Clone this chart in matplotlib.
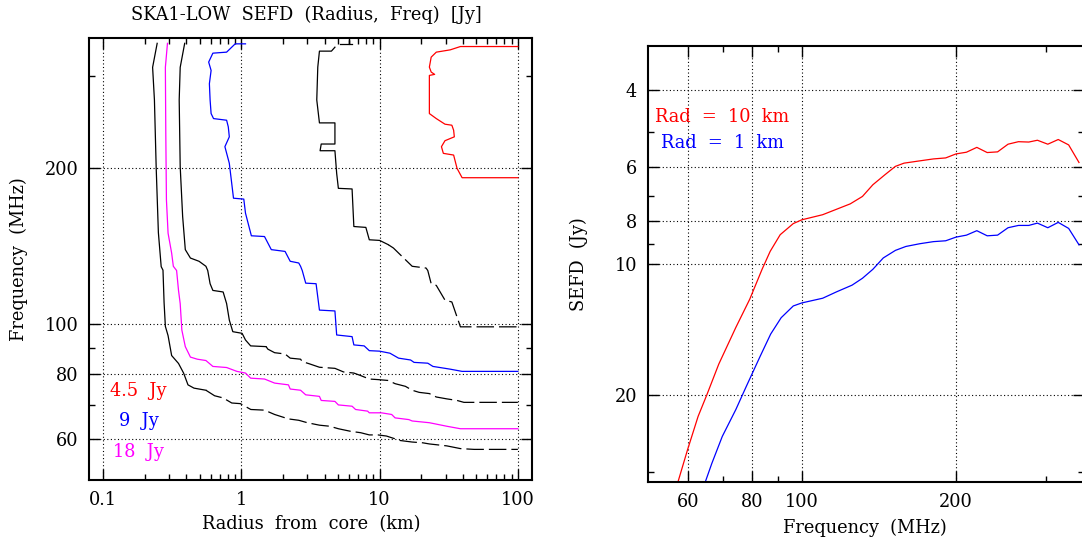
import numpy as np
import matplotlib
matplotlib.use("Agg")
import matplotlib.pyplot as plt
from matplotlib.ticker import FixedLocator, NullFormatter, FixedFormatter

# ---------------- data: left panel contours (radius km, freq MHz) ----------------
c18b_r = [0.246, 0.228, 0.235, 0.242, 0.251, 0.263, 0.271, 0.276, 0.282, 0.295, 0.313, 0.351,
          0.382, 0.411, 0.454, 0.554, 0.640, 0.738, 0.852, 0.983, 1.17, 1.47, 1.74, 2.19, 2.60,
          3.00, 3.67, 4.36, 5.03, 6.14, 7.30, 8.42, 9.72, 11.2, 14.1, 17.2, 20.5, 22.9, 30.6,
          38.4, 48.3, 100]
c18b_f = [347, 312, 270, 200, 150, 129, 127, 110, 99, 95, 87, 84, 80.5, 76.4, 75.3, 74.6, 72.8,
          72.1, 70.5, 70.3, 68.5, 68.3, 67.0, 65.7, 65.3, 64.6, 63.9, 63.6, 62.9, 62.2, 61.8,
          61.2, 61.2, 60.9, 59.7, 59.3, 59.1, 58.8, 58.3, 57.6, 57.4, 57.4]

c18_r = [0.292, 0.282, 0.284, 0.287, 0.295, 0.313, 0.322, 0.340, 0.351, 0.361, 0.371, 0.393,
         0.428, 0.480, 0.554, 0.622, 0.782, 0.928, 1.071, 1.167, 1.47, 1.74, 2.19, 2.255, 2.68,
         2.92, 3.67, 3.78, 4.75, 5.03, 6.32, 6.70, 8.19, 8.42, 10.29, 12.22, 12.94, 16.27, 17.2,
         22.9, 30.6, 38.4, 100]
c18_f = [347, 312, 232.7, 173.4, 149.6, 137, 129.2, 126.8, 116.1, 109.5, 97.4, 90.5, 86.4, 85.6,
         85.1, 82.9, 82.5, 81.1, 80.5, 78.7, 78.4, 77.0, 76.4, 75.0, 74.6, 73.1, 72.6, 71.3, 71.0,
         69.9, 69.5, 68.5, 68.0, 67.5, 67.5, 67.0, 66.0, 65.5, 65.1, 64.6, 63.6, 62.9, 62.9]

c13_r = [0.389, 0.361, 0.355, 0.361, 0.376, 0.393, 0.428, 0.494, 0.554, 0.571, 0.594, 0.622,
         0.738, 0.782, 0.818, 0.867, 1.012, 1.071, 1.167, 1.51, 1.554, 1.74, 2.07, 2.255, 2.68,
         2.756, 3.09, 3.67, 4.75, 5.48, 6.51, 7.30, 8.42, 9.72, 11.54, 12.94, 15.37, 17.2, 19.32,
         22.9, 25.7, 30.6, 36.3, 40.7, 100]
c13_f = [347, 312, 270, 200.9, 161.1, 139.1, 134.0, 132.1, 129.2, 126.8, 119.6, 116.1, 115.3,
         109.5, 101.8, 96.7, 96.0, 93.2, 90.8, 90.5, 89.5, 88.1, 87.6, 86.0, 85.6, 84.7, 83.9,
         82.6, 82.2, 80.9, 80.5, 79.6, 78.4, 78.2, 77.9, 76.8, 75.9, 74.6, 73.9, 73.5, 72.4, 71.8,
         71.3, 70.7, 70.7]

c9_r = [1.071, 0.902, 0.782, 0.622, 0.580, 0.604, 0.587, 0.594, 0.604, 0.629, 0.782, 0.804,
        0.818, 0.760, 0.818, 0.877, 1.041, 1.071, 1.181, 1.47, 1.646, 2.07, 2.255, 2.60, 2.68,
        2.756, 2.92, 3.47, 3.67, 4.75, 4.89, 6.32, 6.51, 7.73, 8.42, 10.0, 11.88, 13.71, 16.75,
        17.74, 22.3, 24.3, 28.9, 32.4, 39.5, 100]
c9_f = [346.2, 346.2, 333.7, 332.2, 319.3, 307.7, 290.2, 270, 254.2, 248.6, 246.8, 239.7, 229.3,
        219.5, 203.9, 174.7, 174.0, 163.5, 147.9, 147.4, 139.1, 138.0, 132.1, 131.1, 129.2, 126.8,
        119.9, 119.6, 106.4, 106.0, 95.3, 94.6, 91.2, 90.8, 88.9, 88.7, 87.9, 86.0, 85.3, 84.4,
        84.1, 82.9, 82.3, 81.9, 81.1, 81.1]

c6_r = [4.75, 4.48, 3.67, 3.57, 3.51, 3.67, 4.75, 4.75, 3.78, 3.71, 4.75, 4.89, 5.03, 6.32, 6.51,
        7.95, 8.42, 10.0, 11.54, 12.58, 14.51, 17.2, 21.67, 22.3, 23.6, 25.7, 29.7, 33.3, 38.4,
        100]
c6_f = [341.1, 335.2, 335.2, 312.3, 270, 243.9, 243.9, 222.1, 222.1, 215.6, 215.6, 195.0, 182.5,
        182.0, 154.1, 153.5, 145.3, 144.9, 142.2, 140.1, 135.0, 129.2, 128.2, 126.8, 119.6, 118.7,
        111.2, 110.3, 98.8, 98.8]
c6top_r = [5.18, 5.97, 5.97, 5.97, 6.32]
c6top_f = [346.2, 346.2, 351.4, 346.2, 346.2]

c45_r = [100, 38.4, 32.4, 25.7, 23.6, 22.9, 23.6, 25.0, 22.9, 22.9, 25.7, 29.7, 33.3, 34.3, 34.7,
         29.7, 28.0, 28.9, 34.3, 36.3, 39.5, 100]
c45_f = [342.1, 342.1, 337.1, 333.7, 326.4, 312.3, 305.5, 302.4, 301.0, 254.2, 248.6, 242.5,
         241.4, 236.1, 229.3, 225.4, 219.5, 213.1, 211.5, 199.4, 191.3, 191.3]

contour_labels = ["4.5  Jy", "9  Jy", "18  Jy"]

# ---------------- data: right panel SEFD vs frequency ----------------
rad10_freq = [57.3, 59.8, 62.7, 65.2, 68.8, 74.3, 79.1, 83.6, 86.7, 90.7, 96.2, 100, 109.8, 124.3,
              131.3, 137.6, 145.3, 152.3, 158.3, 169.8, 180.7, 190.9, 200, 209.6, 219.6, 230.1,
              241.1, 252.7, 264.8, 277.4, 288.4, 302.2, 316.7, 331.9, 347.7]
rad10_sefd = [31.6, 26.7, 22.4, 20.0, 17.0, 14.0, 12.06, 10.3, 9.37, 8.58, 8.09, 7.93, 7.72,
              7.29, 7.01, 6.59, 6.25, 5.98, 5.88, 5.81, 5.75, 5.72, 5.60, 5.55, 5.41, 5.56, 5.54,
              5.32, 5.25, 5.26, 5.21, 5.32, 5.19, 5.34, 5.86]
rad1_freq = [64.8, 66.7, 69.9, 74.3, 77.9, 82.9, 86.9, 91.1, 96.2, 100, 109.8, 116.9, 125.3,
             131.3, 137.6, 144.2, 152.3, 159.6, 169.8, 180.7, 190.9, 200, 209.6, 219.6, 230.1,
             241.1, 252.7, 264.8, 277.4, 288.4, 302.2, 316.7, 331.9, 347.7]
rad1_sefd = [31.6, 28.7, 24.9, 21.6, 19.1, 16.3, 14.5, 13.3, 12.5, 12.3, 12.0, 11.6, 11.2, 10.8,
             10.3, 9.70, 9.32, 9.13, 9.00, 8.90, 8.86, 8.69, 8.60, 8.40, 8.63, 8.60, 8.27, 8.17,
             8.17, 8.07, 8.27, 8.04, 8.30, 9.05]
series_labels = ["Rad  =  10  km", "Rad  =  1  km"]

# ---------------- tick values ----------------
left_xmajor = [0.1, 1, 10, 100]
left_xlabels = ["0.1", "1", "10", "100"]
left_xminor = [m * d for d in (0.1, 1, 10) for m in range(2, 10)]
left_ymajor = [60, 80, 100, 200]
left_yminor = [70, 90, 300]
right_xmajor = [60, 80, 100, 200]
right_xminor = [70, 90, 300]
right_ymajor = [4, 6, 8, 10, 20]
right_yminor = [5, 7, 9, 30]

# ---------------- figure ----------------
W, H = 1082, 542
FS = 12.8
plt.rcParams['font.family'] = ['DejaVu Serif']
plt.rcParams['font.size'] = FS
fig = plt.figure(figsize=(W / 100, H / 100), dpi=100)


def fx(x):
    return x / W


def fy(y):
    return 1 - y / H


def style_axes(ax):
    for s in ax.spines.values():
        s.set_linewidth(1.5)
    ax.tick_params(which='both', direction='in', top=True, right=True, width=1.0)
    ax.tick_params(which='major', length=8, pad=8, labelsize=FS)
    ax.tick_params(which='minor', length=4)
    ax.grid(True, which='major', color='black', linestyle=(0, (1, 2.2)), linewidth=0.8)
    ax.set_axisbelow(True)


DASH = (0, (14, 4))


def black_contour(ax, r, f, r_dash):
    r = np.asarray(r)
    f = np.asarray(f)
    k = int(np.argmax(r >= r_dash))
    ax.plot(r[:k + 1], f[:k + 1], color='black', lw=0.9)
    ax.plot(r[k:], f[k:], color='black', lw=0.9, linestyle=DASH)


# left panel
ax1 = fig.add_axes([fx(89.3), fy(480), fx(531.7) - fx(89.3), fy(38.3) - fy(480)])
ax1.set_xscale('log')
ax1.set_yscale('log')
ax1.set_xlim(10 ** -1.1, 10 ** 2.1)
ax1.set_ylim(10 ** 1.7, 10 ** 2.55)
style_axes(ax1)
ax1.xaxis.set_major_locator(FixedLocator(left_xmajor))
ax1.xaxis.set_major_formatter(FixedFormatter(left_xlabels))
ax1.xaxis.set_minor_locator(FixedLocator(left_xminor))
ax1.xaxis.set_minor_formatter(NullFormatter())
ax1.yaxis.set_major_locator(FixedLocator(left_ymajor))
ax1.yaxis.set_major_formatter(FixedFormatter([str(v) for v in left_ymajor]))
ax1.yaxis.set_minor_locator(FixedLocator(left_yminor))
ax1.yaxis.set_minor_formatter(NullFormatter())

black_contour(ax1, c18b_r, c18b_f, 0.55)
ax1.plot(c18_r, c18_f, color='#ff00ff', lw=0.9)
black_contour(ax1, c13_r, c13_f, 1.5)
ax1.plot(c9_r, c9_f, color='#0000ff', lw=0.9)
black_contour(ax1, c6_r, c6_f, 11)
ax1.plot(c6top_r, c6top_f, color='black', lw=0.9)
ax1.plot(c45_r, c45_f, color='#ff0000', lw=0.9)

fig.text(fx(138), fy(391.5), contour_labels[0], color='#ff0000', ha='center', va='center')
fig.text(fx(138.5), fy(421.4), contour_labels[1], color='#0000ff', ha='center', va='center')
fig.text(fx(138.5), fy(452.3), contour_labels[2], color='#ff00ff', ha='center', va='center')

fig.text(fx(306), fy(15), "SKA1-LOW  SEFD  (Radius,  Freq)  [Jy]", ha='center', va='center')
fig.text(fx(311), fy(524), "Radius  from  core  (km)", ha='center', va='center')
fig.text(fx(19), fy(259), "Frequency  (MHz)", ha='center', va='center', rotation=90)

# right panel
ax2 = fig.add_axes([fx(648.3), fy(481.7), fx(1083.5) - fx(648.3), fy(45.7) - fy(481.7)])
ax2.set_xscale('log')
ax2.set_yscale('log')
ax2.set_xlim(10 ** 1.7, 10 ** 2.55)
ax2.set_ylim(10 ** 1.5, 10 ** 0.5)
style_axes(ax2)
ax2.xaxis.set_major_locator(FixedLocator(right_xmajor))
ax2.xaxis.set_major_formatter(FixedFormatter([str(v) for v in right_xmajor]))
ax2.xaxis.set_minor_locator(FixedLocator(right_xminor))
ax2.xaxis.set_minor_formatter(NullFormatter())
ax2.yaxis.set_major_locator(FixedLocator(right_ymajor))
ax2.yaxis.set_major_formatter(FixedFormatter([str(v) for v in right_ymajor]))
ax2.yaxis.set_minor_locator(FixedLocator(right_yminor))
ax2.yaxis.set_minor_formatter(NullFormatter())

ax2.plot(rad10_freq, rad10_sefd, color='#ff0000', lw=0.9)
ax2.plot(rad1_freq, rad1_sefd, color='#0000ff', lw=0.9)

fig.text(fx(722), fy(117), series_labels[0], color='#ff0000', ha='center', va='center')
fig.text(fx(722), fy(143), series_labels[1], color='#0000ff', ha='center', va='center')
fig.text(fx(865), fy(528), "Frequency  (MHz)", ha='center', va='center')
fig.text(fx(579), fy(264), "SEFD  (Jy)", ha='center', va='center', rotation=90)

fig.savefig("out.png", dpi=100)
